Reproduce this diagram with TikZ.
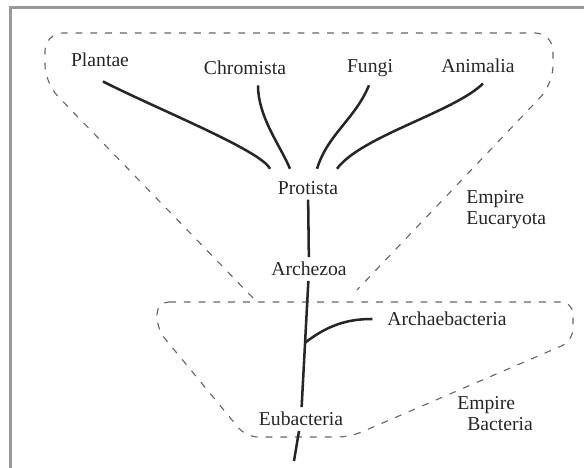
\documentclass[tikz,border=0pt]{standalone}
\usepackage{fontspec}
\setmainfont{Liberation Serif}

\begin{document}
\begin{tikzpicture}[
  taxon/.style   = {font=\fontsize{14}{15}\selectfont, text=black!85},
  empire/.style  = {font=\fontsize{14}{15}\selectfont, text=black!85,
                    align=left, anchor=west, inner sep=0pt},
  branch/.style  = {line width=1.8pt, black!85},
  region/.style  = {line width=0.8pt, black!60, dash pattern=on 0.17cm off 0.2cm},
                     % the two empires: dashed outlines round their kingdoms
  frame/.style   = {line width=2.2pt, black!40},
]
  \useasboundingbox (0,0) rectangle (14.6,11.7);
  \draw[frame] (0.2625,0) -- (0.2625,11.52) -- (14.6,11.52);

  % empires
  \draw[region, rounded corners=0.45cm] (6.325,4.25) -- (1.125,9.625) -- (1.125,10.875)
        -- (13.825,10.875) -- (13.825,9.6) -- (8.925,4.45);
  \draw[region, rounded corners=0.3cm] (3.925,4.15) -- (14.325,4.15) -- (14.325,3.175)
        -- (8.75,0.775) -- (6.15,0.775) -- (3.925,3.475) -- cycle;

  \node[taxon] (plantae)        at (2.5,10.2)     {Plantae};
  \node[taxon] (chromista)      at (6.125,10.0)   {Chromista};
  \node[taxon] (fungi)          at (9.25,10.0)    {Fungi};
  \node[taxon] (animalia)       at (11.95,10.05)  {Animalia};
  \node[taxon] (protista)       at (7.7,7.0)      {Protista};
  \node[taxon] (archezoa)       at (7.725,4.975)  {Archezoa};
  \node[taxon] (archaebacteria) at (11.175,3.725) {Archaebacteria};
  \node[taxon] (eubacteria)     at (7.525,1.225)  {Eubacteria};
  \coordinate (root) at (7.35,0.175);

  \node[empire] (emp_euc) at (11.65,6.45)  {Empire\\Eucaryota};
  \node[empire] (emp_bac) at (11.425,1.35) {Empire\\\hspace*{0.25cm}Bacteria};

  % kingdoms out of Protista
  \draw[branch] ([shift={(0.075,-0.24)}]plantae.south) .. controls +(-27:1.5) and +(115:0.5) .. ([shift={(-0.95,0.19)}]protista.north);
  \draw[branch] ([shift={(0.325,-0.14)}]chromista.south) .. controls +(-90:0.8) and +(112:0.6) .. ([shift={(-0.45,0.19)}]protista.north);
  \draw[branch] ([shift={(-0.025,-0.09)}]fungi.south) .. controls +(-112:0.9) and +(73:0.9) .. ([shift={(0.225,0.19)}]protista.north);
  \draw[branch] ([shift={(0.125,-0.14)}]animalia.south) .. controls +(-135:1.0) and +(54:1.0) .. ([shift={(0.725,0.19)}]protista.north);

  % the trunk
  \draw[branch] (protista) -- (archezoa);
  \draw[branch] (archezoa) -- coordinate[pos=0.49] (split) (eubacteria);
  \draw[branch] (eubacteria) -- (root);
  \draw[branch, shorten >=0.25cm] (split) to[out=38,in=180] (archaebacteria);
\end{tikzpicture}
\end{document}
